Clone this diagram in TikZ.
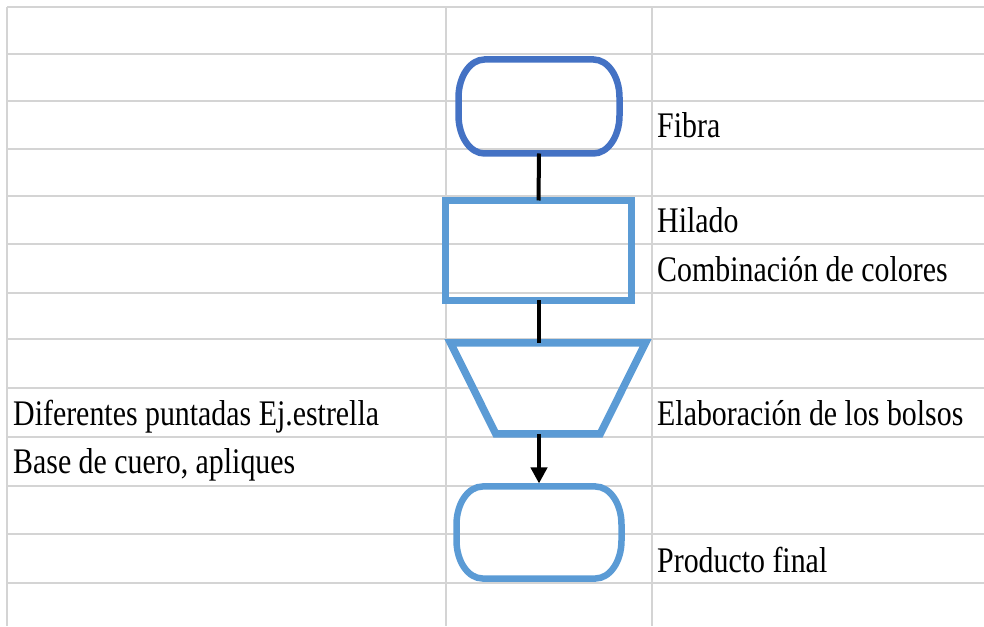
\documentclass[tikz,border=0pt]{standalone}
\usepackage{fontspec}
\setmainfont{Liberation Serif}[FakeStretch=0.83]
\usetikzlibrary{arrows.meta,shapes.geometric}

\definecolor{gridgray}{HTML}{D4D4D4}
\definecolor{termdark}{HTML}{4472C4}
\definecolor{procblue}{HTML}{5B9BD5}

% outline of a terminal box with elliptic ends: node name, colour
\newcommand{\termoutline}[2]{%
  \draw[termline, #2] ([xshift=26pt]#1.north west) -- ([xshift=-26pt]#1.north east)
    arc[start angle=90, end angle=0, x radius=26pt, y radius=38pt]
    -- ([yshift=38pt]#1.south east)
    arc[start angle=0, end angle=-90, x radius=26pt, y radius=38pt]
    -- ([xshift=26pt]#1.south west)
    arc[start angle=-90, end angle=-180, x radius=26pt, y radius=38pt]
    -- ([yshift=-38pt]#1.north west)
    arc[start angle=180, end angle=90, x radius=26pt, y radius=38pt] -- cycle;}

\begin{document}
\begin{tikzpicture}[x=1pt, y=1pt,
    cell/.style={draw=gridgray, line width=2.4pt},
    label/.style={anchor=base west, inner sep=0pt,
        font=\fontsize{36pt}{40pt}\selectfont},
    terminal/.style={rectangle, draw=none, inner sep=0pt, outer sep=0pt},
    termline/.style={line width=6.5pt},
    process/.style={rectangle, draw=procblue, line width=6.5pt, inner sep=0pt,
        outer sep=0pt, minimum width=186pt, minimum height=100pt},
    manual/.style={trapezium, trapezium stretches=true, trapezium angle=66.5,
        shape border rotate=180, draw=procblue, line width=7.5pt, inner sep=3pt,
        outer sep=0pt, minimum width=195pt, minimum height=91pt},
    link/.style={line width=4pt},
    arr/.style={line width=4pt, -{Triangle[width=16pt, length=16pt]}},
]
\useasboundingbox (0,0) rectangle (984,626);

% Sheet grid
\foreach \y in {619,572,525,477,430,382,333,287,238,189,140,92,43}
    \draw[cell] (7,\y) -- (984,\y);
\foreach \x in {7,446,652}
    \draw[cell] (\x,619) -- (\x,0);

% Flow shapes
\node[terminal, minimum width=161pt, minimum height=94pt] (fibra) at (539,519.5) {};
\node[process] (hilado) at (538.5,375.5) {};
\node[manual] (elab) at (548,237.5) {};
\node[terminal, minimum width=165pt, minimum height=92pt] (producto) at (539,93.5) {};

\termoutline{fibra}{termdark}
\termoutline{producto}{procblue}

% Connectors
\draw[link] (fibra.south) -- (hilado.north);
\draw[link] (hilado.south) -- (hilado.south |- elab.north);
\draw[arr] (elab.south -| producto.north) -- ([yshift=3pt]producto.north);

% Cell texts
\node[label] (tfibra) at (657,488) {Fibra};
\node[label] (thilado) at (657,393) {Hilado};
\node[label] (tcolor) at (657,344) {Combinación de colores};
\node[label] (telab) at (657,200) {Elaboración de los bolsos};
\node[label] (tprod) at (657,53) {Producto final};
\node[label] (tpunt) at (13,200) {Diferentes puntadas Ej.estrella};
\node[label] (tbase) at (13,152) {Base de cuero, apliques};

\end{tikzpicture}
\end{document}
